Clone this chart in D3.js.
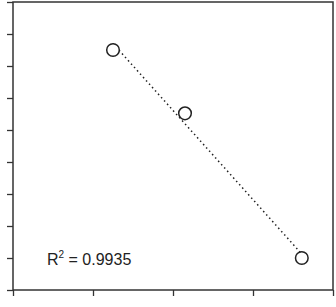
<!DOCTYPE html>
<html>
<head>
<meta charset="utf-8">
<script src="https://cdn.jsdelivr.net/npm/d3@7"></script>
<style>
  body { margin: 0; background: #fff; }
  svg { display: block; }
</style>
</head>
<body>
<svg id="chart" width="336" height="307"></svg>
<script>
// values
let xValues = [1.25, 2.15, 3.61];
let yValues = [7.5, 5.52, 1.0];
let xTicks = [0, 1, 2, 3, 4];
let yTicks = [0, 1, 2, 3, 4, 5, 6, 7, 8, 9];
let r2Label = "0.9935";

let svg = d3.select("#chart");
let plotLeft = 13, plotRight = 333, plotTop = 2, plotBottom = 290;

let x = d3.scaleLinear().domain([0, 4]).range([plotLeft, plotRight]);
let y = d3.scaleLinear().domain([0, 9]).range([plotBottom, plotTop]);

// frame
svg.append("rect")
  .attr("x", plotLeft).attr("y", plotTop)
  .attr("width", plotRight - plotLeft).attr("height", plotBottom - plotTop)
  .attr("fill", "none").attr("stroke", "#333").attr("stroke-width", 1.5);

// axes, ticks only
let xAxis = svg.append("g")
  .attr("transform", `translate(0,${plotBottom})`)
  .call(d3.axisBottom(x).tickValues(xTicks).tickSize(6).tickFormat(""));
let yAxis = svg.append("g")
  .attr("transform", `translate(${plotLeft},0)`)
  .call(d3.axisLeft(y).tickValues(yTicks).tickSize(6).tickFormat(""));
[xAxis, yAxis].forEach(a => {
  a.select(".domain").remove();
  a.selectAll("line").attr("stroke", "#333").attr("stroke-width", 1.3);
});

// least-squares trendline
let points = xValues.map((v, i) => ({x: v, y: yValues[i]}));
let mx = d3.mean(xValues), my = d3.mean(yValues);
let slope = d3.sum(points, p => (p.x - mx) * (p.y - my)) / d3.sum(points, p => (p.x - mx) ** 2);
let intercept = my - slope * mx;
let xExt = d3.extent(xValues);

svg.append("line")
  .attr("x1", x(xExt[0])).attr("y1", y(slope * xExt[0] + intercept))
  .attr("x2", x(xExt[1])).attr("y2", y(slope * xExt[1] + intercept))
  .attr("stroke", "#222").attr("stroke-width", 1.5)
  .attr("stroke-dasharray", "1.5,3");

svg.selectAll(".pt")
  .data(points)
  .join("circle")
    .classed("pt", true)
    .attr("cx", d => x(d.x))
    .attr("cy", d => y(d.y))
    .attr("r", 6.3)
    .attr("fill", "#fff")
    .attr("stroke", "#222")
    .attr("stroke-width", 1.5);

let label = svg.append("text")
  .attr("x", 47).attr("y", 265)
  .attr("font-family", "Liberation Sans, Arial, sans-serif")
  .attr("font-size", 16)
  .attr("fill", "#222");
label.append("tspan").text("R");
label.append("tspan").attr("font-size", 10).attr("dy", -7).text("2");
label.append("tspan").attr("dy", 7).text(" = " + r2Label);
</script>
</body>
</html>
